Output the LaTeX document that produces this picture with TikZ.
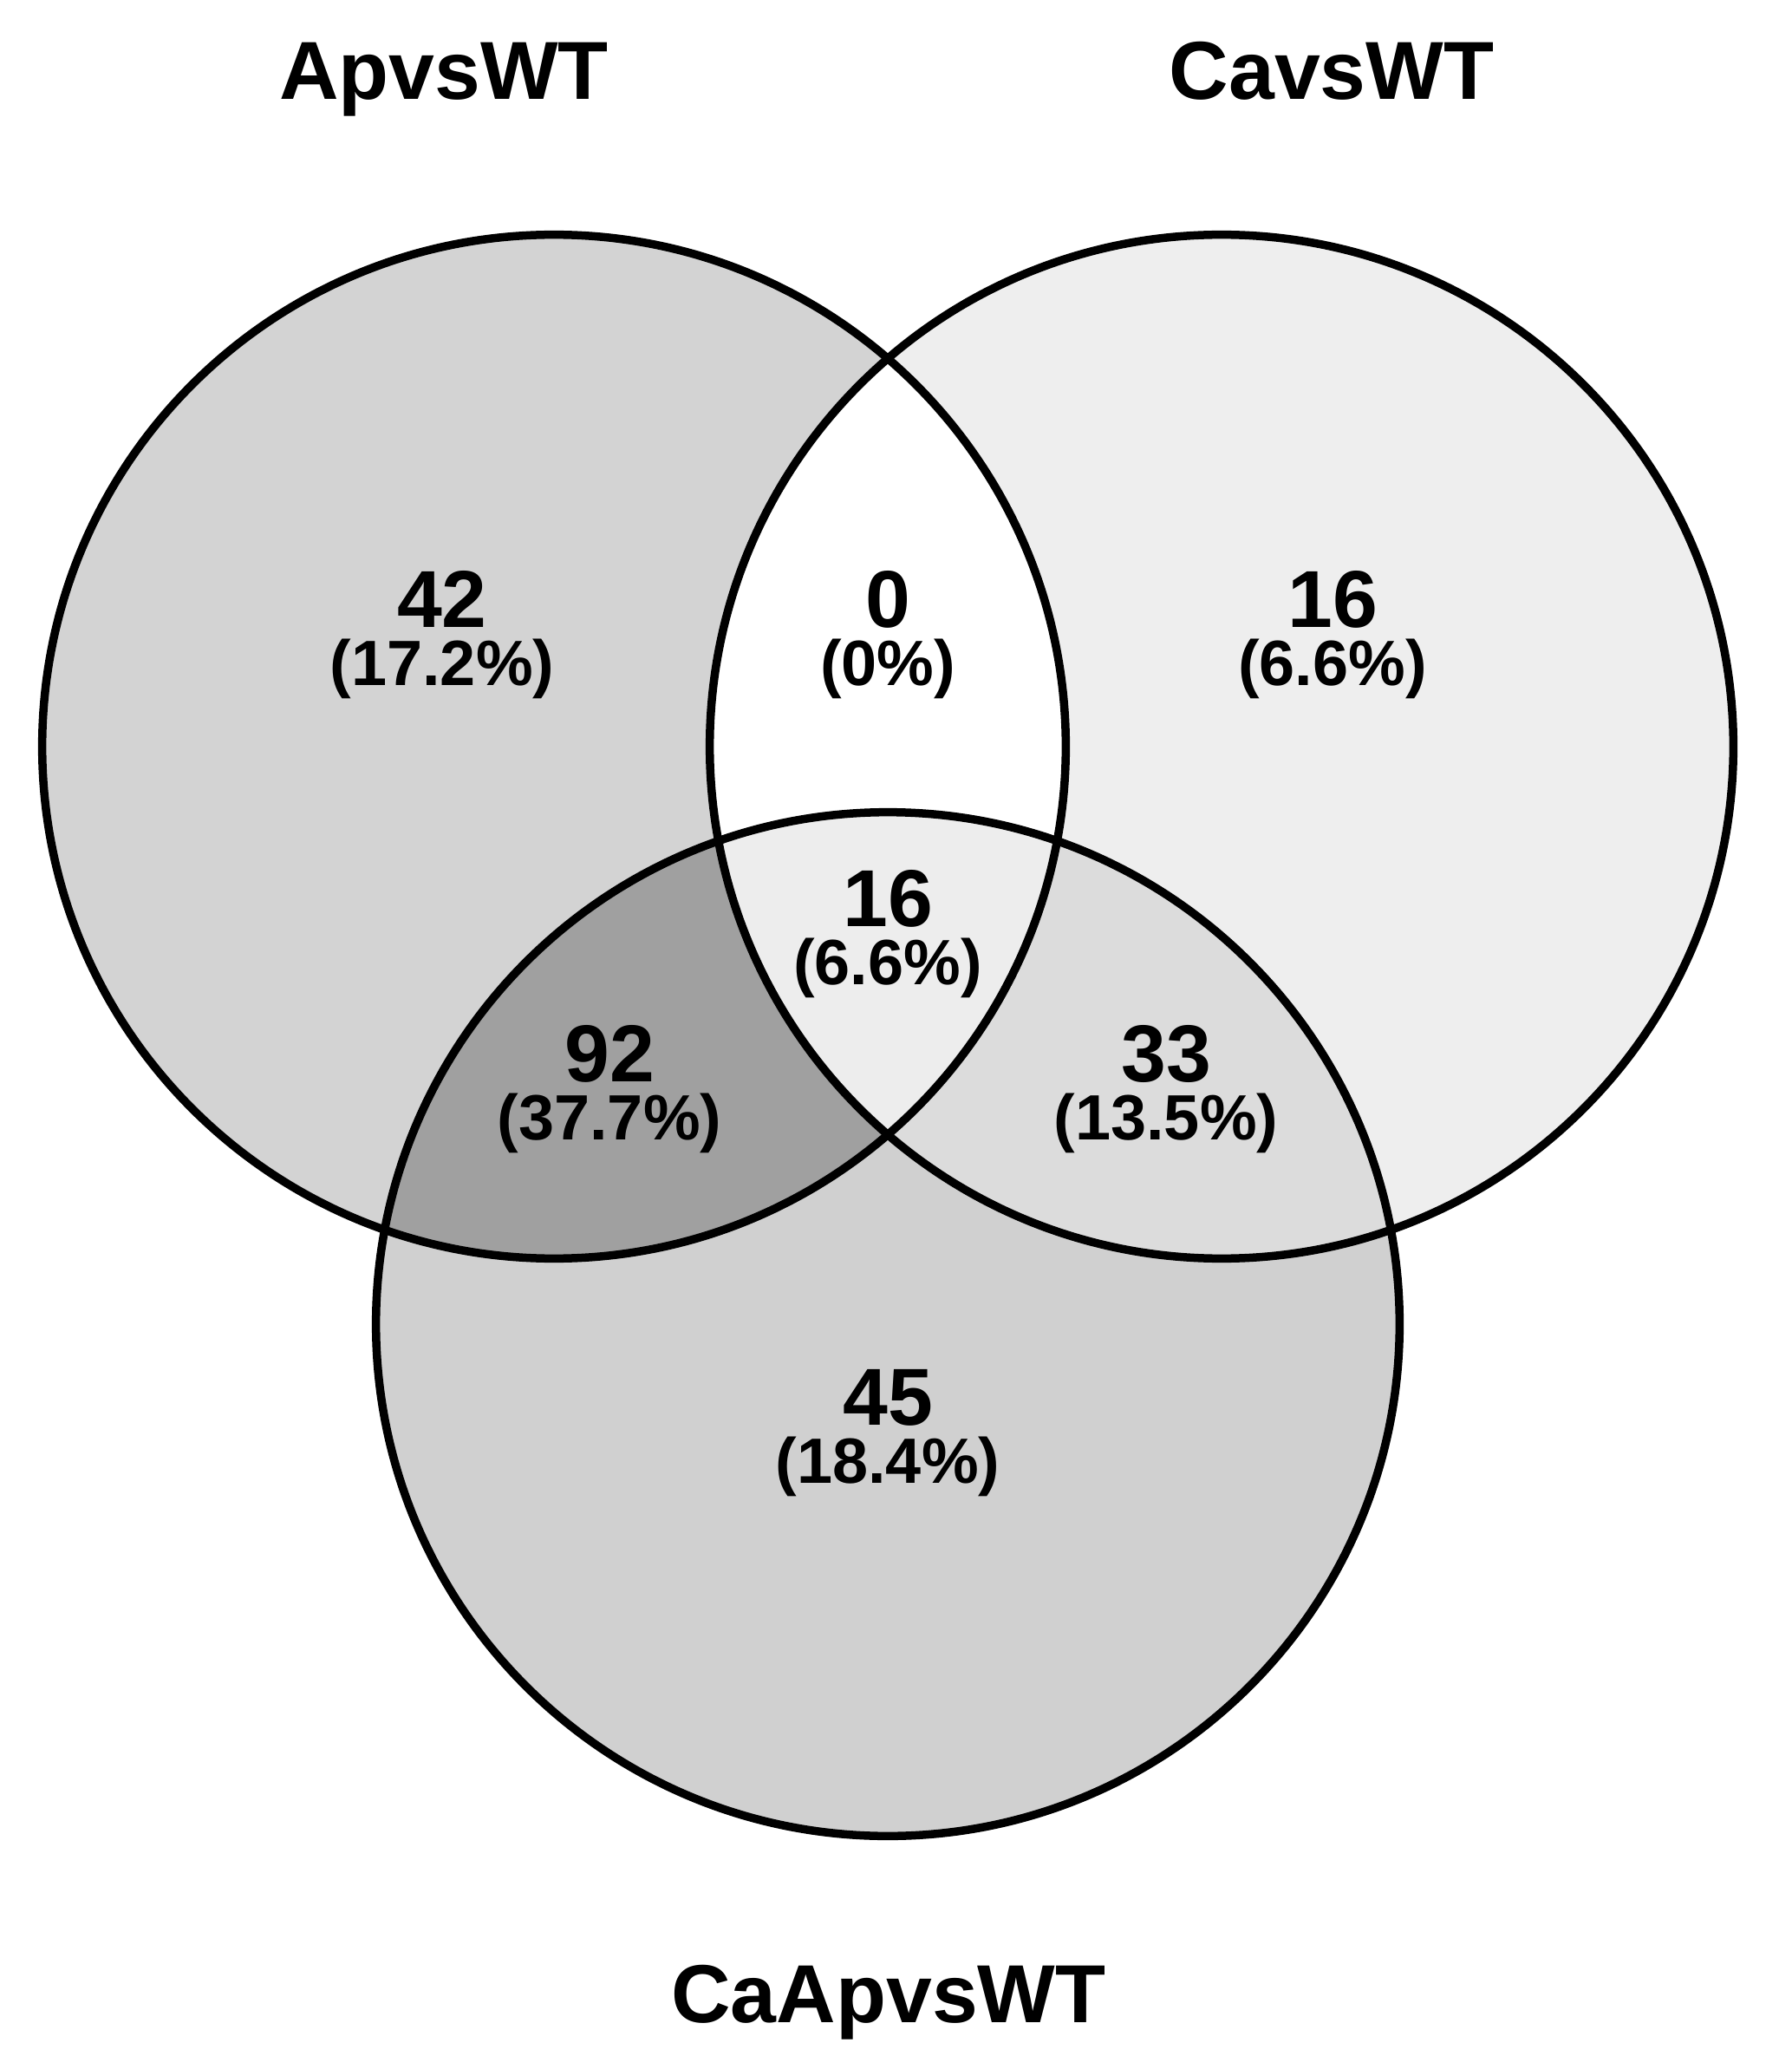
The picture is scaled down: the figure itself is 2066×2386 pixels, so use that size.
\documentclass[tikz,border=0pt]{standalone}
\usepackage{fontspec}
\setmainfont{Liberation Sans}
\begin{document}
\begin{tikzpicture}[x=0.01cm,y=-0.01cm,
  ring/.style={draw=black,line width=0.095cm},
  title/.style={font=\fontsize{27pt}{32pt}\selectfont\bfseries,anchor=base,inner sep=0pt},
  count/.style={font=\fontsize{26.5pt}{32pt}\selectfont\bfseries,anchor=base,inner sep=0pt},
  pct/.style={font=\fontsize{21pt}{25pt}\selectfont\bfseries,anchor=base,inner sep=0pt}]
\useasboundingbox[fill=white] (0,0) rectangle (2066,2386);
\coordinate (A) at (639,861);
\coordinate (C) at (1409,861);
\coordinate (B) at (1024,1527);
\def\R{5.90cm}
% single regions
\fill[fill={rgb,255:red,211;green,211;blue,211}] (A) circle[radius=\R];
\fill[fill={rgb,255:red,238;green,238;blue,238}] (C) circle[radius=\R];
\fill[fill={rgb,255:red,208;green,208;blue,208}] (B) circle[radius=\R];
% A and C
\begin{scope}
\clip (A) circle[radius=\R];
\fill[white] (C) circle[radius=\R];
\end{scope}
% A and B
\begin{scope}
\clip (A) circle[radius=\R];
\fill[fill={rgb,255:red,160;green,160;blue,160}] (B) circle[radius=\R];
\end{scope}
% B and C
\begin{scope}
\clip (B) circle[radius=\R];
\fill[fill={rgb,255:red,220;green,220;blue,220}] (C) circle[radius=\R];
\end{scope}
% all three
\begin{scope}
\clip (A) circle[radius=\R];
\clip (B) circle[radius=\R];
\fill[fill={rgb,255:red,237;green,237;blue,237}] (C) circle[radius=\R];
\end{scope}
% outlines
\draw[ring] (A) circle[radius=\R];
\draw[ring] (C) circle[radius=\R];
\draw[ring] (B) circle[radius=\R];
% titles
\node[title] (tA) at (512,115) {ApvsWT};
\node[title] (tC) at (1536,115) {CavsWT};
\node[title] (tB) at (1025,2332) {CaApvsWT};
% counts
\node[count] (nA) at (510,724) {42};
\node[pct] (pA) at (510,791) {(17.2\%)};
\node[count] (nAC) at (1024,724) {0};
\node[pct] (pAC) at (1024,791) {(0\%)};
\node[count] (nC) at (1537,724) {16};
\node[pct] (pC) at (1537,791) {(6.6\%)};
\node[count] (nABC) at (1024,1068) {16};
\node[pct] (pABC) at (1024,1135) {(6.6\%)};
\node[count] (nAB) at (703,1247) {92};
\node[pct] (pAB) at (703,1314) {(37.7\%)};
\node[count] (nBC) at (1345,1247) {33};
\node[pct] (pBC) at (1345,1314) {(13.5\%)};
\node[count] (nB) at (1024,1643) {45};
\node[pct] (pB) at (1024,1710) {(18.4\%)};
\end{tikzpicture}
\end{document}
